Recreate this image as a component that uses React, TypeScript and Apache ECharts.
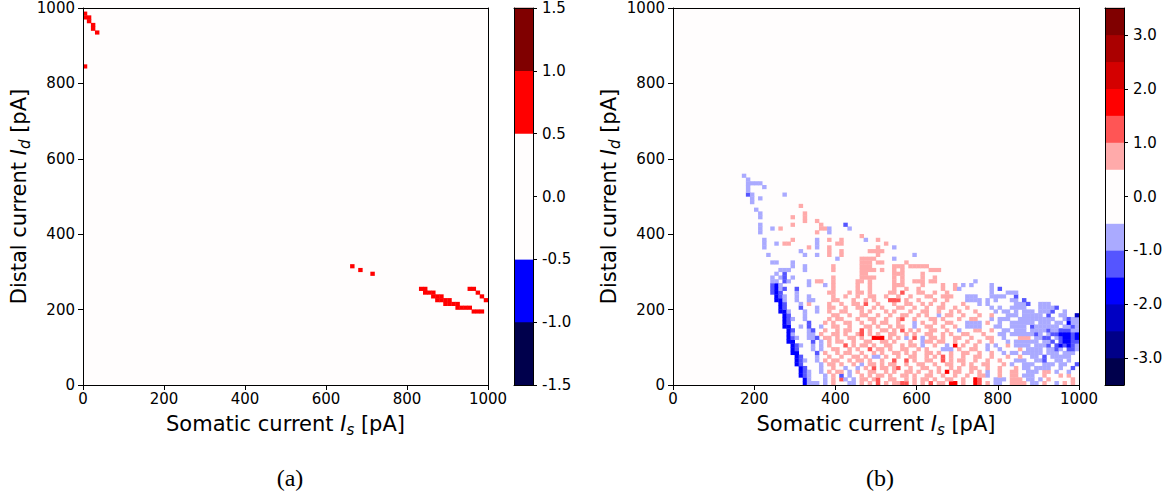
import React, { useEffect, useRef } from 'react';
import * as echarts from 'echarts';

// ---------------- data ----------------
const CELL_PA = 10; // grid step of the sweep (pA)
const AXIS_MIN = 0;
const AXIS_MAX = 1000;
const AXIS_INTERVAL = 200;

// colour bins (BoundaryNorm on "seismic")
const A_BOUNDS = [-1.5, -1.0, -0.5, 0.5, 1.0, 1.5];
const A_COLORS = ['#00004c', '#0000ff', '#fffdfd', '#ff0000', '#800000'];
const B_BOUNDS = [-3.5, -3.0, -2.5, -2.0, -1.5, -1.0, -0.5, 0.5, 1.0, 1.5, 2.0, 2.5, 3.0, 3.5];
const B_COLORS = ['#00004c', '#000088', '#0000c3', '#0000ff', '#5555ff', '#aaaaff', '#fffdfd',
  '#ffaaaa', '#ff5555', '#ff0000', '#d40000', '#aa0000', '#800000'];
const B_CB_TICKS = [-3, -2, -1, 0, 1, 2, 3];

// cell level codes -> value
const LEVEL_VALUE: Record<string, number> = {
  a: -0.75, b: -1.25, c: -1.75, d: -2.25, p: 0.75, q: 1.25, r: 1.75,
};

// panel (a): [row (Id / 10), "startCol:codes ..."]
const A_ROWS: [number, string][] = [
  [98, '0:p'], [97, '0:pp'], [96, '1:p'], [95, '2:p'], [94, '2:p'], [93, '3:p'],
  [84, '0:p'],
  [31, '66:p'], [30, '68:p'], [29, '71:p'],
  [25, '83:pp 95:pp'], [24, '84:ppp 97:p'], [23, '86:ppp 98:p'], [22, '87:pppp 99:p'],
  [21, '89:pppp'], [20, '92:pppp'], [19, '96:ppp'],
];

// panel (b): index = row (Id / 10), "startCol:codes ..."
const B_ROWS: string[] = [
  /* 0 */ '32:caaa 37:a 39:p 43:aa 46:p 48:p 50:q 52:p 54:pp 56:qq 59:p 61:p 63:q 65:pp 68:rr 71:p 74:rq 77:p 79:aa 83:pppp 88:aa 91:p 94:a 96:p 98:p',
  /* 1 */ '32:ca 37:a 39:p 41:qa 44:a 46:pp 49:pq 53:pp 57:p 59:p 61:pp 64:p 67:pp 71:p 74:rq 79:aaa 83:ppp 87:aa 90:a 92:p 98:p',
  /* 2 */ '31:cba 37:a 39:p 41:b 43:a 46:p 48:p 50:pp 53:p 56:pp 59:p 62:pp 66:p 69:p 72:p 75:pp 77:a 80:p 83:pp 86:aaa 91:p 95:p 97:p',
  /* 3 */ '31:cba 36:a 38:p 40:pp 43:a 45:p 48:pp 52:p 54:p 57:pp 60:p 63:p 65:p 67:r 69:pp 73:p 75:p 77:a 80:p 83:pp 87:aaa 91:pp 94:a 97:a',
  /* 4 */ '31:cb 36:a 39:p 42:a 45:a 47:p 49:q 51:pp 54:pq 58:p 61:pp 65:p 68:p 70:p 73:pp 77:p 80:p 84:p 86:aa 89:aaaa 95:a 98:b',
  /* 5 */ '30:cb 36:a 38:pp 41:p 44:p 46:a 48:pp 51:p 53:pp 57:p 60:pp 64:p 67:pp 71:p 73:p 76:pp 81:p 83:a 86:aaa 91:aaa 95:aa 99:b',
  /* 6 */ '30:cba 35:a 37:p 39:pp 43:p 45:pp 48:p 51:p 54:q 57:q 59:p 62:pp 66:q 68:p 70:pp 74:p 77:p 80:p 84:aaa 89:aab 94:aa 97:a',
  /* 7 */ '30:cb 35:a 38:p 41:p 44:pp 47:p 49:aa 52:p 55:p 58:pp 62:p 64:p 66:q 68:p 71:p 74:pp 78:p 82:p 85:p 88:aa 91:b 93:aaaaa',
  /* 8 */ '29:cc 35:b 37:p 40:p 42:pp 46:p 49:p 51:p 54:pp 57:p 59:p 62:pp 65:p 68:p 71:pp 75:p 78:p 81:a 83:aa 86:aaaaa 92:aaa 96:aaa',
  /* 9 */ '29:cb 34:a 36:a 39:pp 43:p 45:p 48:q 50:pp 53:p 56:pp 60:p 62:p 66:aaa 70:p 73:pp 77:a 80:a 85:p 87:aaaa 92:aaba 97:bba',
  /* 10 */ '29:cba 34:a 36:a 38:p 42:q 44:p 46:pp 49:p 52:pp 56:p 58:pp 61:a 64:p 67:a 69:r 71:p 74:p 77:a 79:a 82:p 84:aaaa 89:aaab 94:bcbcb 99:a',
  /* 11 */ '28:cc 34:b 36:a 38:p 40:pp 44:p 47:pp 51:pp 54:p 58:p 61:a 62:pp 65:pp 69:p 72:p 75:p 78:p 82:a 84:aaaaaa 91:aab 95:bccbb',
  /* 12 */ '28:cba 33:aab 37:pp 40:p 43:pp 46:p 49:rrr 53:p 55:p 57:a 59:q 61:a 63:pp 66:p 69:pp 73:p 77:pp 81:a 85:ppp 89:aabb 94:abccbc',
  /* 13 */ '28:ca 33:aa 36:p 39:pp 42:p 45:pq 48:p 50:p 53:pp 57:p 59:p 62:pp 66:p 68:p 71:pp 76:p 80:aa 83:aaaa 87:aaba 92:abbcc 97:cbc',
  /* 14 */ '28:cb 33:ab 37:p 40:p 42:pp 46:q 48:p 51:pp 54:p 56:q 58:p 60:p 63:pp 67:p 70:a 74:pp 78:p 81:aa 84:aaa 88:aaaabaa 95:bbbaa',
  /* 15 */ '27:cc 31:a 33:b 36:a 39:pp 43:p 47:pp 50:p 53:p 55:pp 59:a 62:pp 66:p 69:p 72:aaaa 79:aa 83:aaaa 88:baaaaaa 96:aab 99:a',
  /* 16 */ '27:cb 33:b 37:p 39:p 42:pp 46:p 49:p 51:pp 55:p 59:a 61:p 64:p 67:pp 72:aaaa 77:p 80:a 83:aaaaaa 90:aaa 94:aa 97:caa',
  /* 17 */ '27:cba 32:a 38:p 40:pp 45:p 48:pp 52:p 55:pq 59:p 63:pp 66:p 70:p 73:pp 78:a 80:aaa 85:aaaaaaaaa 96:abaa',
  /* 18 */ '27:cb 32:a 39:pp 43:p 46:pp 50:p 53:p 56:pp 60:p 62:p 65:a 67:pp 71:p 75:p 78:p 82:aaa 86:aaaaa 92:b 95:aa 99:d',
  /* 19 */ '26:cca 32:a 35:a 38:p 41:pp 46:p 48:p 52:p 54:p 58:p 61:pp 65:p 68:p 70:p 74:p 79:a 81:aa 84:a.aaa 90:aaa 93:b 96:a',
  /* 20 */ '26:cb 31:b 35:a 38:pp 42:p 45:pp 49:p 51:p 55:pp 59:p 62:p 65:pp 69:p 72:p 78:a 80:a 83:aaaa 90:aaaa 94:b',
  /* 21 */ '26:cb 31:a 33:p 38:p 41:p 44:pp 47:q 50:p 54:p 57:pp 61:p 63:p 66:p 71:p 75:a 77:a 84:aaa 87:b 90:aaa',
  /* 22 */ '25:cca 30:a 33:aa 39:pp 44:p 47:p 49:p 53:qqq 57:p 60:p 64:p 67:p 72:aaa 75:a 77:a 79:a 83:aa 86:b',
  /* 23 */ '25:cba 30:a 33:a 39:p 42:p 45:p 48:pp 52:p 55:p 58:p 62:pp 66:pp 68:p 72:aaa 78:aaaa 84:b',
  /* 24 */ '24:bcb 30:a 38:pp 43:p 45:pp 48:p 53:pp 56:q 60:pp 64:p 67:p 78:a 82:aaa',
  /* 25 */ '24:bcab 30:b 39:p 45:p 48:p 54:p 57:p 60:p 66:p 69:p 70:a 78:a 80:b',
  /* 26 */ '24:bca 33:a 37:a 39:p 45:p 48:p 54:ppp 61:p 66:p 69:p 71:a 73:a 78:a',
  /* 27 */ '24:aa.ba 33:a 35:pp 39:p 45:pp 48:p 54:p.p 59:pp 61:p 63:pp 74:a',
  /* 28 */ '24:a 26:ab 29:a 39:p 46:pppp 54:p 56:p 61:p 64:p',
  /* 29 */ '25:a 27:b 46:pp 54:ppp 61:p',
  /* 30 */ '26:aaa 32:a 39:p 46:pppp 51:p 54:p 56:p 63:ppp',
  /* 31 */ '29:a 32:a 39:p 46:pp 48:p 54:ppp 58:ppppp',
  /* 32 */ '24:aa 29:a 46:pp 48:p 50:pp 57:p',
  /* 33 */ '40:a 46:pppp 54:a',
  /* 34 */ '23:a 32:a 35:a 38:p 41:p 50:p 59:a',
  /* 35 */ '31:a 38:p 41:p 48:pppp',
  /* 36 */ '22:a 33:p 35:a 38:p 50:p 54:a',
  /* 37 */ '22:a 25:a 27:pp 35:a 40:pp 52:p',
  /* 38 */ '22:a 29:p 35:a 38:p 41:p 47:a 50:p',
  /* 39 */ '46:p',
  /* 40 */ '21:a 35:p 38:a',
  /* 41 */ '21:a 24:a 26:p 36:pp 38:a 43:a',
  /* 42 */ '21:a 29:p 36:p 42:b',
  /* 43 */ '32:p 35:p',
  /* 44 */ '21:a 29:p 32:p',
  /* 45 */ '21:a 32:p',
  /* 46 */ '20:a',
  /* 47 */ '31:p',
  /* 48 */ '19:a',
  /* 49 */ '19:a 21:a',
  /* 50 */ '18:ba 27:a',
  /* 51 */ '18:a',
  /* 52 */ '18:a 22:a',
  /* 53 */ '18:aaaa',
  /* 54 */ '18:a',
  /* 55 */ '17:a',
];

// ---------------- helpers ----------------
function parseRows(rows: [number, string][]): number[][] {
  const out: number[][] = [];
  for (const [row, spec] of rows) {
    for (const seg of spec.trim().split(/\s+/)) {
      if (!seg) continue;
      const [c, chars] = seg.split(':');
      const c0 = parseInt(c, 10);
      for (let i = 0; i < chars.length; i++) {
        const ch = chars[i];
        if (ch === '.') continue;
        out.push([(c0 + i) * CELL_PA, row * CELL_PA, LEVEL_VALUE[ch]]);
      }
    }
  }
  return out;
}

const A_DATA = parseRows(A_ROWS);
const B_DATA = parseRows(B_ROWS.map((s, i) => [i, s] as [number, string]));

function binIndex(v: number, bounds: number[]) {
  for (let i = 0; i < bounds.length - 1; i++) {
    if (v >= bounds[i] && v < bounds[i + 1]) return i;
  }
  return v < bounds[0] ? 0 : bounds.length - 2;
}

const binsOf = (bounds: number[]) => bounds.slice(0, -1).map((lo, i) => [lo, bounds[i + 1], i]);

const FONT = 'DejaVu Sans';
const BLACK = '#000000';
const BG = '#fffdfd';

const TITLE_RICH = {
  t: { fontFamily: FONT, fontSize: 21, color: BLACK },
  i: { fontFamily: FONT, fontSize: 21, fontStyle: 'italic', color: BLACK },
  s: { fontFamily: FONT, fontSize: 15, fontStyle: 'italic', color: BLACK, verticalAlign: 'bottom', padding: [11, 0, 0, 0] },
};
const X_TITLE = '{t|Somatic current }{i|I}{s|s}{t| [pA]}';
const Y_TITLE = '{t|Distal current }{i|I}{s|d}{t| [pA]}';

const LINE = { show: true, onZero: false, lineStyle: { color: BLACK, width: 1 } };
const TICK = { show: true, inside: false, length: 5, lineStyle: { color: BLACK, width: 1 } };
const LABEL = { color: BLACK, fontFamily: FONT, fontSize: 15 };

const lineOnly = (extra: any) => ({
  type: 'value', z: 5, ...extra,
  axisLine: LINE, axisTick: { show: false }, axisLabel: { show: false }, splitLine: { show: false },
});

function heatX(gridIndex: number) {
  return {
    type: 'value', gridIndex, position: 'bottom', z: 5,
    min: AXIS_MIN, max: AXIS_MAX, interval: AXIS_INTERVAL,
    axisLine: LINE, axisTick: TICK,
    axisLabel: { ...LABEL, margin: 6, formatter: (v: number) => String(v) },
    splitLine: { show: false },
    name: X_TITLE, nameLocation: 'middle', nameGap: 26,
    nameTextStyle: { fontFamily: FONT, fontSize: 21, color: BLACK, rich: TITLE_RICH },
  };
}
function heatY(gridIndex: number) {
  return {
    type: 'value', gridIndex, position: 'left', z: 5,
    min: AXIS_MIN, max: AXIS_MAX, interval: AXIS_INTERVAL,
    axisLine: LINE, axisTick: TICK,
    axisLabel: { ...LABEL, margin: 8, formatter: (v: number) => String(v) },
    splitLine: { show: false },
    name: Y_TITLE, nameLocation: 'middle', nameGap: 51, nameRotate: 90,
    nameTextStyle: { fontFamily: FONT, fontSize: 21, color: BLACK, rich: TITLE_RICH },
  };
}

const cellRenderer = (bounds: number[], colors: string[]) => (_p: any, api: any) => {
  const x = api.value(0);
  const y = api.value(1);
  const v = api.value(2);
  const p0 = api.coord([x, y]);
  const p1 = api.coord([x + CELL_PA, y + CELL_PA]);
  return {
    type: 'rect',
    shape: { x: p0[0] - 0.2, y: p1[1] - 0.2, width: p1[0] - p0[0] + 0.4, height: p0[1] - p1[1] + 0.4 },
    style: { fill: colors[binIndex(v, bounds)] },
  };
};
const barRenderer = (colors: string[]) => (_p: any, api: any) => {
  const lo = api.value(0);
  const hi = api.value(1);
  const idx = api.value(2);
  const p0 = api.coord([0, lo]);
  const p1 = api.coord([1, hi]);
  return {
    type: 'rect',
    shape: { x: p0[0], y: p1[1] - 0.2, width: p1[0] - p0[0], height: p0[1] - p1[1] + 0.4 },
    style: { fill: colors[idx] },
  };
};

function buildOption() {
  const gridBase = { containLabel: false, show: true, borderWidth: 0 };
  return {
    animation: false,
    backgroundColor: '#ffffff',
    grid: [
      { ...gridBase, left: 83, top: 8, width: 405, height: 377, backgroundColor: BG },
      { ...gridBase, left: 514, top: 8, width: 19, height: 377, backgroundColor: 'transparent' },
      { ...gridBase, left: 673, top: 8, width: 406, height: 377, backgroundColor: BG },
      { ...gridBase, left: 1105, top: 8, width: 19, height: 377, backgroundColor: 'transparent' },
    ],
    xAxis: [
      heatX(0),
      lineOnly({ gridIndex: 0, position: 'top', min: AXIS_MIN, max: AXIS_MAX }),
      lineOnly({ gridIndex: 1, position: 'bottom', min: 0, max: 1 }),
      lineOnly({ gridIndex: 1, position: 'top', min: 0, max: 1 }),
      heatX(2),
      lineOnly({ gridIndex: 2, position: 'top', min: AXIS_MIN, max: AXIS_MAX }),
      lineOnly({ gridIndex: 3, position: 'bottom', min: 0, max: 1 }),
      lineOnly({ gridIndex: 3, position: 'top', min: 0, max: 1 }),
    ],
    yAxis: [
      heatY(0),
      lineOnly({ gridIndex: 0, position: 'right', min: AXIS_MIN, max: AXIS_MAX }),
      {
        type: 'value', gridIndex: 1, position: 'right', z: 5,
        min: A_BOUNDS[0], max: A_BOUNDS[A_BOUNDS.length - 1], interval: 0.5,
        axisLine: LINE, axisTick: { ...TICK, length: 4 },
        axisLabel: { ...LABEL, margin: 9, formatter: (v: number) => v.toFixed(1) },
        splitLine: { show: false },
      },
      lineOnly({ gridIndex: 1, position: 'left', min: A_BOUNDS[0], max: A_BOUNDS[A_BOUNDS.length - 1] }),
      heatY(2),
      lineOnly({ gridIndex: 2, position: 'right', min: AXIS_MIN, max: AXIS_MAX }),
      {
        type: 'value', gridIndex: 3, position: 'right', z: 5,
        min: B_BOUNDS[0], max: B_BOUNDS[B_BOUNDS.length - 1],
        axisLine: LINE,
        axisTick: { ...TICK, length: 4, customValues: B_CB_TICKS },
        axisLabel: { ...LABEL, margin: 9, customValues: B_CB_TICKS, formatter: (v: number) => v.toFixed(1) },
        splitLine: { show: false },
      },
      lineOnly({ gridIndex: 3, position: 'left', min: B_BOUNDS[0], max: B_BOUNDS[B_BOUNDS.length - 1] }),
    ],
    series: [
      { type: 'custom', xAxisIndex: 0, yAxisIndex: 0, data: A_DATA, clip: true, renderItem: cellRenderer(A_BOUNDS, A_COLORS) },
      { type: 'custom', xAxisIndex: 2, yAxisIndex: 2, data: binsOf(A_BOUNDS), renderItem: barRenderer(A_COLORS) },
      { type: 'custom', xAxisIndex: 4, yAxisIndex: 4, data: B_DATA, clip: true, renderItem: cellRenderer(B_BOUNDS, B_COLORS) },
      { type: 'custom', xAxisIndex: 6, yAxisIndex: 6, data: binsOf(B_BOUNDS), renderItem: barRenderer(B_COLORS) },
    ],
    graphic: [
      { type: 'text', x: 290, y: 478, style: { text: '(a)', fontFamily: 'Liberation Serif', fontSize: 24, fill: BLACK, align: 'center', verticalAlign: 'middle' } },
      { type: 'text', x: 880, y: 478, style: { text: '(b)', fontFamily: 'Liberation Serif', fontSize: 24, fill: BLACK, align: 'center', verticalAlign: 'middle' } },
    ],
  };
}

export default function App() {
  const ref = useRef<HTMLDivElement>(null);
  useEffect(() => {
    if (!ref.current) return;
    const chart = echarts.init(ref.current, undefined, { renderer: 'svg' });
    chart.setOption(buildOption() as any);
    return () => chart.dispose();
  }, []);
  return (
    <div
      ref={ref}
      style={{ position: 'fixed', left: 0, top: 0, width: 1174, height: 496, background: '#ffffff' }}
    />
  );
}
